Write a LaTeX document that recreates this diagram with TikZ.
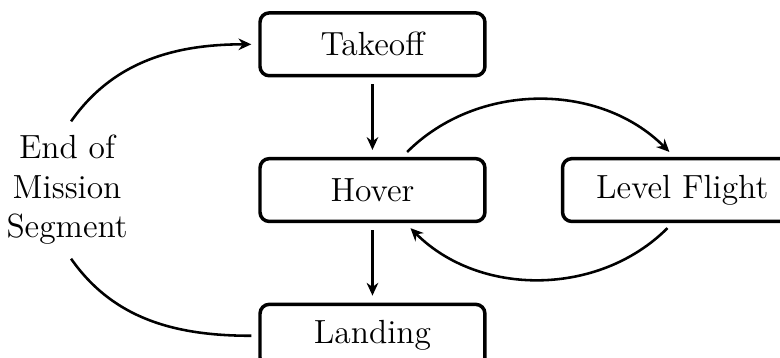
\documentclass[tikz,border=0pt]{standalone}
\usetikzlibrary{arrows.meta,positioning}

\begin{document}
\begin{tikzpicture}[
      node distance=1.2cm,
      phase/.style={draw,line width=1.5pt,rounded corners=4pt,minimum width=3.4cm,minimum height=0.95cm,align=center,font=\fontsize{14.4}{17}\selectfont},
      flow/.style={-{Stealth[length=5.5pt,width=5pt]},line width=1.1pt,shorten >=3pt,shorten <=3pt}
    ]
      \useasboundingbox (-5.63,0.67) rectangle (6.16,-4.74);
      \node[phase] (takeoff) {Takeoff};
      \node[phase,below=of takeoff] (hover) {Hover};
      \node[phase,below=of hover] (landing) {Landing};
      \node[phase,minimum width=3.62cm,right=1.12cm of hover] (level) {Level Flight};
      \node[align=center,font=\fontsize{14.4}{17}\selectfont,left=1.85cm of hover] (segment) {End of\\Mission\\Segment};
      \draw[flow] (takeoff) -- (hover);
      \draw[flow] (hover) -- (landing);
      \draw[flow] ([xshift=0.45cm]hover.north) to[bend left=45] ([xshift=-0.12cm]level.north);
      \draw[flow] ([xshift=-0.15cm]level.south) to[bend left=45] ([xshift=0.5cm]hover.south);
      \draw[flow] (segment.north) to[out=55,in=180] (takeoff.west);
      \draw[flow,-] (landing.west) to[out=180,in=-55] (segment.south);
    \end{tikzpicture}
\end{document}
